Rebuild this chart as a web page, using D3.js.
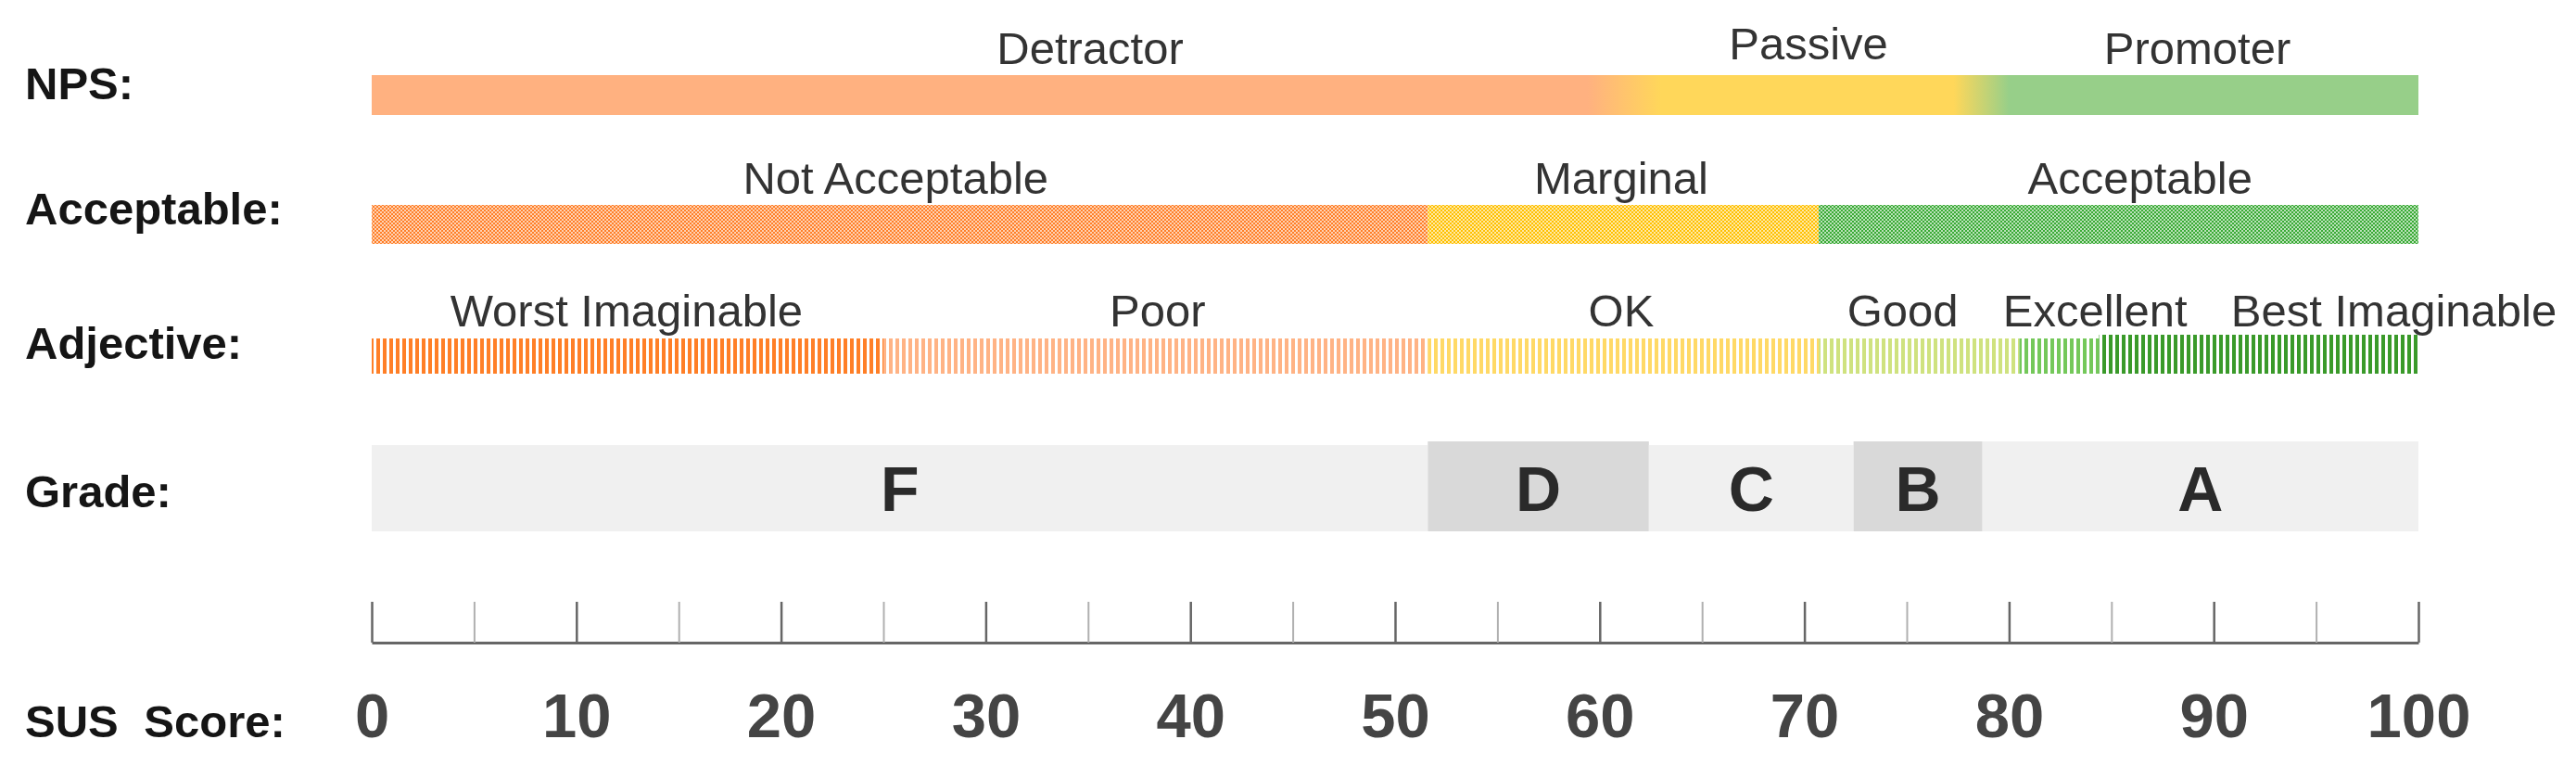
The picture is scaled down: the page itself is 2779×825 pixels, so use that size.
<!DOCTYPE html>
<html>
<head>
<meta charset="utf-8">
<script src="https://cdn.jsdelivr.net/npm/d3@7"></script>
<style>
  body { margin: 0; background: #fff; }
  text { font-family: "Liberation Sans", Arial, sans-serif; }
</style>
</head>
<body>
<svg id="chart"></svg>
<script>
// NPS row
const npsNames = ["Detractor", "Passive", "Promoter"];
const npsColors = ["#ffb180", "#ffd75a", "#97cf89"];
const npsBlend = [[59.4, 63], [77.3, 80]];   // where one colour fades into the next
const npsLabelAt = [35.1, 70.2, 89.2];

// Acceptability row
const accNames = ["Not Acceptable", "Marginal", "Acceptable"];
const accBounds = [0, 51.6, 70.7, 100];
const accColors = ["#ff7f27", "#ffc000", "#3aaa35"];
const accLabelAt = [25.6, 61.05, 86.4];

// Adjective row
const adjNames = ["Worst Imaginable", "Poor", "OK", "Good", "Excellent", "Best Imaginable"];
const adjBounds = [0, 25, 51.6, 70.7, 80.5, 84.4, 100];
const adjColors = ["#ff7f27", "#ffb385", "#ffd966", "#cfe27f", "#74c85a", "#3a9a2a"];
const adjLabelAt = [12.45, 38.4, 61.05, 74.8, 84.2, 98.8];

// Grade row
const grades = ["F", "D", "C", "B", "A"];
const gradeBounds = [0, 51.6, 62.4, 72.4, 78.7, 100];
const gradeColors = ["#f0f0f0", "#d9d9d9", "#f0f0f0", "#d9d9d9", "#f0f0f0"];

// Axis
const majorTicks = d3.range(0, 101, 10);
const minorTicks = d3.range(0, 101, 5);

const rowLabels = ["NPS:", "Acceptable:", "Adjective:", "Grade:", "SUS Score:"];
const rowLabelY = [107, 242, 387, 547, 795];

const width = 2779, height = 825;
const svg = d3.select("#chart").attr("width", width).attr("height", height);
const defs = svg.append("defs");

const x = d3.scaleLinear().domain([0, 100]).range([401, 2609]);

// Row labels
svg.append("g").selectAll("text")
  .data(rowLabels)
  .join("text")
  .attr("x", 27)
  .attr("y", (d, i) => rowLabelY[i])
  .attr("font-size", 49)
  .attr("font-weight", "bold")
  .attr("word-spacing", d => d === "SUS Score:" ? 14 : 0)
  .attr("fill", "#151515")
  .text(d => d);

function catLabels(names, at, y) {
  svg.append("g").selectAll("text")
    .data(names)
    .join("text")
    .attr("x", (d, i) => x(at[i]))
    .attr("y", (d, i) => d === "Passive" ? y - 5 : y)
    .attr("text-anchor", "middle")
    .attr("font-size", 49)
    .attr("fill", "#333")
    .text(d => d);
}

// NPS gradient bar
const grad = defs.append("linearGradient")
  .attr("id", "npsGrad")
  .attr("gradientUnits", "userSpaceOnUse")
  .attr("x1", x(0)).attr("x2", x(100));
const stops = [[0, npsColors[0]]];
npsBlend.forEach((b, i) => {
  stops.push([b[0], npsColors[i]]);
  stops.push([b[1], npsColors[i + 1]]);
});
stops.push([100, npsColors[2]]);
grad.selectAll("stop")
  .data(stops)
  .join("stop")
  .attr("offset", d => d[0] + "%")
  .attr("stop-color", d => d[1]);

svg.append("rect")
  .attr("x", x(0)).attr("y", 81)
  .attr("width", x(100) - x(0)).attr("height", 43)
  .attr("fill", "url(#npsGrad)");
catLabels(npsNames, npsLabelAt, 69);

// Acceptability checker bars
accColors.forEach((c, i) => {
  const p = defs.append("pattern")
    .attr("id", "chk" + i)
    .attr("patternUnits", "userSpaceOnUse")
    .attr("width", 4).attr("height", 4);
  p.append("rect").attr("width", 4).attr("height", 4).attr("fill", c).attr("opacity", 0.35);
  p.append("rect").attr("width", 2).attr("height", 2).attr("fill", c);
  p.append("rect").attr("x", 2).attr("y", 2).attr("width", 2).attr("height", 2).attr("fill", c);
});
svg.append("g").selectAll("rect")
  .data(accNames)
  .join("rect")
  .attr("x", (d, i) => x(accBounds[i]))
  .attr("width", (d, i) => x(accBounds[i + 1]) - x(accBounds[i]))
  .attr("y", 221).attr("height", 42)
  .attr("fill", (d, i) => `url(#chk${i})`);
catLabels(accNames, accLabelAt, 209);

// Adjective striped bars
adjColors.forEach((c, i) => {
  const p = defs.append("pattern")
    .attr("id", "str" + i)
    .attr("patternUnits", "userSpaceOnUse")
    .attr("width", 7).attr("height", 10);
  p.append("rect").attr("width", 4).attr("height", 10).attr("fill", c);
});
svg.append("g").selectAll("rect")
  .data(adjNames)
  .join("rect")
  .attr("x", (d, i) => x(adjBounds[i]))
  .attr("width", (d, i) => x(adjBounds[i + 1]) - x(adjBounds[i]))
  .attr("y", (d, i) => i === adjNames.length - 1 ? 361 : 365)
  .attr("height", (d, i) => i === adjNames.length - 1 ? 42 : 38)
  .attr("fill", (d, i) => `url(#str${i})`);
catLabels(adjNames, adjLabelAt, 352);

// Grade boxes
const gradeG = svg.append("g").selectAll("g")
  .data(grades)
  .join("g");
gradeG.append("rect")
  .attr("x", (d, i) => x(gradeBounds[i]))
  .attr("width", (d, i) => x(gradeBounds[i + 1]) - x(gradeBounds[i]))
  .attr("y", d => (d === "F" || d === "C") ? 480 : 476)
  .attr("height", d => (d === "F" || d === "C") ? 93 : 97)
  .attr("fill", (d, i) => gradeColors[i]);
gradeG.append("text")
  .attr("x", (d, i) => x((gradeBounds[i] + gradeBounds[i + 1]) / 2))
  .attr("y", 551)
  .attr("text-anchor", "middle")
  .attr("font-size", 68)
  .attr("font-weight", "bold")
  .attr("fill", "#2a2a2a")
  .text(d => d);

// Ruler
svg.append("g")
  .attr("transform", "translate(0,693)")
  .call(d3.axisTop(x).tickValues(minorTicks).tickSize(44).tickSizeOuter(0).tickFormat(""))
  .call(g => g.select(".domain").attr("stroke", "#666").attr("stroke-width", 3))
  .call(g => g.selectAll(".tick line")
    .attr("stroke", d => d % 10 ? "#b0b0b0" : "#666")
    .attr("stroke-width", d => d % 10 ? 2 : 2.5));

svg.append("g")
  .attr("transform", "translate(0,747)")
  .call(d3.axisBottom(x).tickValues(majorTicks).tickSize(0).tickPadding(0))
  .call(g => g.select(".domain").remove())
  .call(g => g.selectAll("text")
    .attr("font-family", "'Liberation Sans', Arial, sans-serif")
    .attr("font-size", 67)
    .attr("font-weight", "bold")
    .attr("fill", "#444"));
</script>
</body>
</html>
